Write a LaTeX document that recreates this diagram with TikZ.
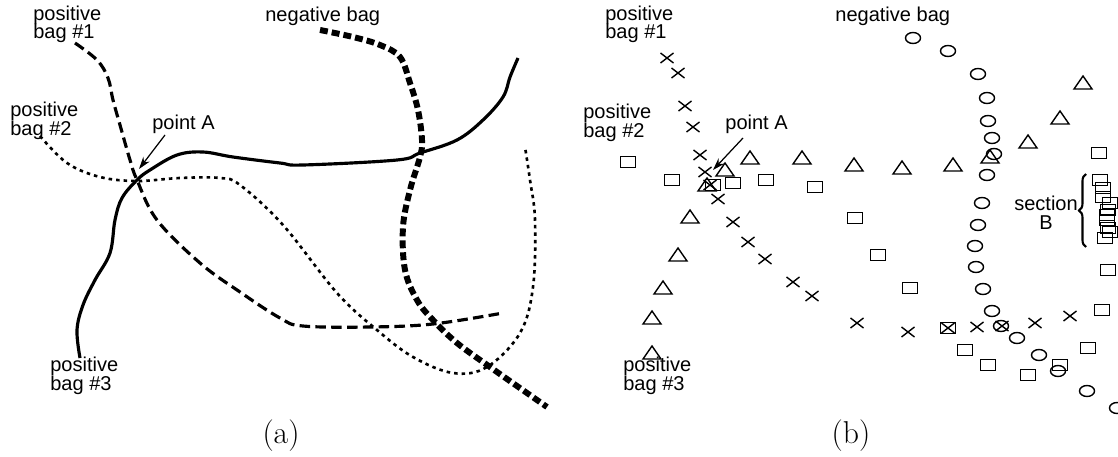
\documentclass[tikz,border=0pt]{standalone}
\usepackage{fontspec}
\setsansfont{Liberation Sans}
\usetikzlibrary{decorations.pathreplacing,arrows.meta}
\begin{document}
\begin{tikzpicture}[x=0.02cm,y=-0.02cm,
  lbl/.style={font=\sffamily\fontsize{11.4}{10.8}\selectfont,align=left,inner sep=0pt,anchor=base west},
  captxt/.style={font=\fontsize{18}{20}\selectfont,inner sep=0pt,anchor=base},
  bagone/.style={line width=1.8pt,dash pattern=on 6pt off 3pt},
  bagtwo/.style={line width=1.5pt,dash pattern=on 2pt off 2.3pt},
  bagthree/.style={line width=1.8pt},
  negbag/.style={line width=3.4pt,dash pattern=on 4.5pt off 2.3pt},
  mk/.style={line width=0.8pt},
  xmark/.pic={\draw[mk] (-6.5,-5)--(6.5,5) (-6.5,5)--(6.5,-5);},
  tmark/.pic={\draw[mk,line join=miter] (-9,6)--(9,6)--(0,-7)--cycle;},
  smark/.pic={\draw[mk] (-7.5,-5.5) rectangle (7.5,5.5);},
  cmark/.pic={\draw[mk] (0,0) ellipse [x radius=7.5,y radius=5.5];}
]
\useasboundingbox (0,0) rectangle (1118,456);

% ---------- panel (a) ----------
\draw[bagone] plot[smooth,tension=0.6] coordinates {(75,43) (97,60) (108,78) (113,100) (120,125) (130,160) (137,180) (157,220) (200,263) (240,292) (280,318) (303,326) (370,327) (433,324) (503,313)};
\draw[bagtwo] plot[smooth,tension=0.6] coordinates {(40,136) (67,163) (100,177) (137,181) (180,178) (220,178) (240,185) (283,225) (337,293) (377,330) (413,357) (453,373) (487,367) (520,333) (533,287) (535,220) (530,180) (525,147)};
\draw[bagthree] plot[smooth,tension=0.6] coordinates {(80,358) (77,330) (83,305) (95,280) (110,253) (115,220) (122,198) (137,180) (150,170) (177,155) (203,152) (233,157) (280,163) (303,165) (397,160) (420,153) (457,140) (483,120) (503,97) (510,77) (518,58)};
\draw[negbag] plot[smooth,tension=0.6] coordinates {(320,30) (353,37) (380,45) (400,57) (410,83) (418,110) (422,140) (420,157) (410,190) (403,227) (405,270) (417,300) (433,320) (457,343) (490,367) (527,393) (547,407)};

\node[lbl] (a1) at (33,39) {positive\\bag \#1};
\node[lbl] (a2) at (10,135) {positive\\bag \#2};
\node[lbl] (aA) at (152,130) {point A};
\node[lbl] (an) at (265,22) {negative bag};
\node[lbl] (a3) at (50,390) {positive\\bag \#3};
\coordinate (aAt) at (139,169);
\draw[line width=0.7pt,-{Stealth[length=7pt,width=4.5pt]}] (165,135) -- (aAt);
\node[captxt] (capa) at (281,443) {(a)};

% ---------- panel (b) ----------
\foreach \p in {(667,58),(678,73),(685,106),(693,127),(700,155),(705,172),(710,185),(718,199),(733,222),(748,242),(765,259),(793,282),(812,296),(857,323),(908,332),(948,328),(977,327),(1002,326),(1035,323),(1070,316)}
  \pic at \p {xmark};
\foreach \p in {(750,158),(802,158),(725,170),(707,185),(690,217),(854,165),(902,168),(953,165),(990,157),(1028,142),(1060,118),(1083,83),(678,255),(663,288),(652,318),(652,353)}
  \pic at \p {tmark};
\foreach \p in {(628,162),(672,180),(713,185),(733,183),(766,180),(815,187),(855,218),(878,255),(910,288),(948,328),(965,350),(988,365),(1028,375),(1060,365),(1088,348),(1102,310),(1108,270),(1099,153),(1100,180),(1103,188),(1103,197),(1110,203),(1108,210),(1107,215),(1107,220),(1108,228),(1110,232),(1105,238)}
  \pic at \p {smark};
\foreach \p in {(913,38),(948,51),(978,74),(987,98),(988,121),(992,138),(994,154),(987,175),(982,203),(978,225),(975,246),(976,267),(983,289),(992,311),(1001,326),(1017,338),(1039,355),(1058,371),(1087,391),(1117,408)}
  \pic at \p {cmark};

\node[lbl] (b1) at (605,39) {positive\\bag \#1};
\node[lbl] (b2) at (583,137) {positive\\bag \#2};
\node[lbl] (bA) at (725,130) {point A};
\node[lbl] (bn) at (835,22) {negative bag};
\node[lbl] (b3) at (623,390) {positive\\bag \#3};
\node[lbl,align=center,anchor=base] (bB) at (1046,229) {section\\B\hspace{1em}};
\coordinate (bAt) at (713,170);
\draw[line width=0.7pt,-{Stealth[length=7pt,width=4.5pt]}] (743,138) -- (bAt);
\coordinate (brb) at (1086,247);
\coordinate (brt) at (1086,174);
\draw[line width=1.2pt,decorate,decoration={brace,amplitude=4pt}] (brb) -- (brt);
\node[captxt] (capb) at (851,443) {(b)};
\end{tikzpicture}
\end{document}
